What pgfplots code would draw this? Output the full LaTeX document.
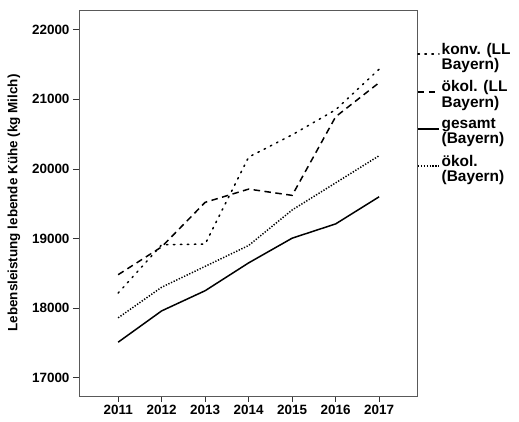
\documentclass[border=0pt]{standalone}
\usepackage{fontspec}
\setmainfont{Liberation Sans}
\usepackage{pgfplots}
\pgfplotsset{compat=1.18}
\usetikzlibrary{calc}

\begin{document}
\begin{tikzpicture}
  \begin{axis}[
    scale only axis,
    width=338bp,
    height=386bp,
    xmin=2010.1, xmax=2017.87,
    ymin=16737, ymax=22284,
    xtick={2011,2012,2013,2014,2015,2016,2017},
    ytick={17000,18000,19000,20000,21000,22000},
    scaled y ticks=false,
    /pgf/number format/1000 sep={},
    /pgf/number format/assume math mode=true,
    tick align=outside,
    xtick pos=bottom,
    ytick pos=left,
    major tick length=6bp,
    axis line style={black!65, line width=0.8pt},
    tick style={black!80, line width=0.8pt},
    ticklabel style={font=\fontsize{13.5}{15}\selectfont\bfseries},
    ylabel={Lebensleistung lebende Kühe (kg Milch)},
    ylabel style={font=\fontsize{13.5}{15}\selectfont\bfseries,
      at={(axis description cs:0,0.5)}, anchor=center, yshift=65bp},
    legend style={
      at={(1.0,0.925)}, anchor=north west, draw=none, fill=none,
      inner xsep=0pt,
      font=\fontsize{15.5}{15.5}\selectfont\bfseries,
      cells={align=left, anchor=west},
      row sep=5.5bp,
    },
    legend image post style={line width=1.5pt},
    legend image code/.code={\draw[#1] (0bp,3bp) -- (21bp,3bp);},
    every axis plot/.append style={line width=1.5pt, black},
  ]
    % konv. (LL Bayern)
    \addplot[dash pattern=on 1.5pt off 5.5pt, line cap=round] coordinates {
      (2011,18216) (2012,18910) (2013,18920) (2014,20170)
      (2015,20490) (2016,20850) (2017,21434)
    };
    \addlegendentry{konv. (LL\\Bayern)}
    % ökol. (LL Bayern)
    \addplot[dash pattern=on 6.5pt off 4.5pt] coordinates {
      (2011,18480) (2012,18880) (2013,19520) (2014,19710)
      (2015,19620) (2016,20750) (2017,21240)
    };
    \addlegendentry{ökol. (LL\\Bayern)}
    % gesamt (Bayern)
    \addplot[solid] coordinates {
      (2011,17510) (2012,17960) (2013,18250) (2014,18650)
      (2015,19005) (2016,19210) (2017,19600)
    };
    \addlegendentry{gesamt\\(Bayern)}
    % ökol. (Bayern)
    \addplot[dash pattern=on 1.3pt off 1.6pt] coordinates {
      (2011,17860) (2012,18300) (2013,18600) (2014,18900)
      (2015,19410) (2016,19800) (2017,20190)
    };
    \addlegendentry{ökol.\\(Bayern)}
  \end{axis}
  \pgfresetboundingbox
  \path ($(current axis.south west)+(-79bp,-26bp)$) rectangle ($(current axis.north east)+(102bp,10bp)$);
\end{tikzpicture}
\end{document}
